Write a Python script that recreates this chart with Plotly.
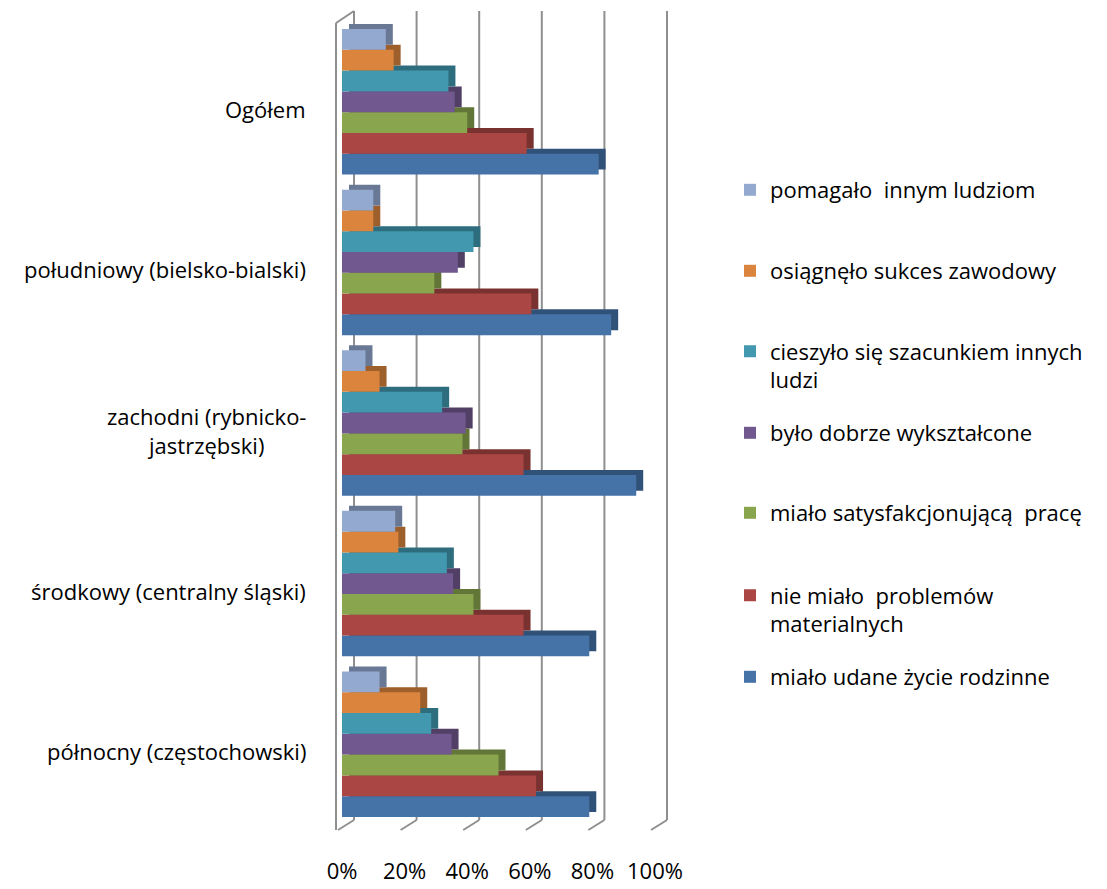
import plotly.graph_objects as go

W, H = 1107, 889
PAGE_OFF = 8  # default body margin of the html page

# ---------------- data ----------------
categories = ["Ogółem", "południowy (bielsko-bialski)", "zachodni (rybnicko-jastrzębski)",
              "środkowy (centralny śląski)", "północny (częstochowski)"]
category_labels = ["Ogółem", "południowy (bielsko-bialski)", "zachodni (rybnicko-<br>jastrzębski)",
                   "środkowy (centralny śląski)", "północny (częstochowski)"]

series_names = ["pomagało innym ludziom", "osiągnęło sukces zawodowy",
                "cieszyło się szacunkiem innych ludzi", "było dobrze wykształcone",
                "miało satysfakcjonującą  pracę", "nie miało problemów materialnych",
                "miało udane życie rodzinne"]
legend_labels = ["pomagało  innym ludziom", "osiągnęło sukces zawodowy",
                 "cieszyło się szacunkiem innych<br>ludzi", "było dobrze wykształcone",
                 "miało satysfakcjonującą  pracę", "nie miało  problemów<br>materialnych",
                 "miało udane życie rodzinne"]

pomagalo = [14, 10, 7.5, 17, 12]
osiagnelo = [16.5, 10, 12, 18, 25]
cieszylo = [34, 42, 32, 33.5, 28.5]
bylo = [36, 37, 39.5, 35.5, 35]
satysfakcja = [40, 29.5, 38.5, 42, 50]
bez_problemow = [59, 60.5, 58, 58, 62]
zycie_rodzinne = [82, 86, 94, 79, 79]
series_values = [pomagalo, osiagnelo, cieszylo, bylo, satysfakcja, bez_problemow, zycie_rodzinne]

tick_values = [0, 20, 40, 60, 80, 100]
tick_labels = ["0%", "20%", "40%", "60%", "80%", "100%"]

# ---------------- style ----------------
colors = ["#93A9CF", "#DB843D", "#4198AF", "#71588F", "#89A54E", "#AA4643", "#4572A7"]
legend_y_px = [190, 271, 366, 433, 513, 610, 677]
FONT = "Open Sans"
FS = 22


def shade(hexcol, f):
    h = hexcol.lstrip("#")
    r, g, b = (int(h[i:i + 2], 16) for i in (0, 2, 4))
    return "#%02x%02x%02x" % (int(r * f), int(g * f), int(b * f))


def px_x(p):
    return (p - PAGE_OFF) / W


def px_y(p):
    return 1 - (p - PAGE_OFF) / H


# bar plane geometry (screen pixels)
X0, SCALE = 342, 3.13      # pixel of 0% and pixels per percent on the bar plane
R0, R1 = -8, 108           # axis range (slack so frame lines are not clipped)
Y_TOP, Y_BOT = 21.5, 824.5  # category band
DX, DY = 7, 5              # bar depth offset
D0, D1 = X0 + R0 * SCALE, X0 + R1 * SCALE

fig = go.Figure()

order = list(range(len(series_names)))[::-1]

# depth (shadow) bars: own subplot shifted up/right
for i in order:
    fig.add_trace(go.Bar(
        y=categories, x=series_values[i], orientation="h",
        marker=dict(color=shade(colors[i], 0.72), line=dict(width=0)),
        xaxis="x", yaxis="y", showlegend=False, hoverinfo="skip",
    ))

# front bars
for i in order:
    lg = "legend" if i == 0 else "legend%d" % (i + 1)
    fig.add_trace(go.Bar(
        y=categories, x=series_values[i], orientation="h", name=legend_labels[i],
        marker=dict(color=colors[i], line=dict(width=0)),
        xaxis="x2", yaxis="y2", legend=lg, showlegend=True,
    ))

cat_array = categories[::-1]

layout = dict(
    width=W, height=H,
    margin=dict(l=0, r=0, t=0, b=0, autoexpand=False),
    paper_bgcolor="white", plot_bgcolor="rgba(0,0,0,0)",
    font=dict(family=FONT, size=FS, color="#000000"),
    barmode="group", bargap=0.094, bargroupgap=0,
    xaxis=dict(domain=[px_x(D0 + DX), px_x(D1 + DX)], range=[R0, R1], visible=False,
               anchor="y"),
    yaxis=dict(domain=[px_y(Y_BOT - DY), px_y(Y_TOP - DY)], type="category",
               categoryorder="array", categoryarray=cat_array, visible=False, anchor="x"),
    xaxis2=dict(domain=[px_x(D0), px_x(D1)], range=[R0, R1], anchor="y2",
                tickvals=tick_values, ticktext=tick_labels, showgrid=False, zeroline=False,
                showline=False, ticks="", ticklabelstandoff=31,
                tickfont=dict(family=FONT, size=FS, color="#000000")),
    yaxis2=dict(domain=[px_y(Y_BOT), px_y(Y_TOP)], type="category",
                anchor="x2", categoryorder="array", categoryarray=cat_array,
                showticklabels=False, showgrid=False, zeroline=False, showline=False,
                ticks=""),
    showlegend=True,
)

for i in range(len(series_names)):
    key = "legend" if i == 0 else "legend%d" % (i + 1)
    layout[key] = dict(
        x=px_x(730), xanchor="left", y=px_y(legend_y_px[i]), yanchor="middle",
        bgcolor="rgba(0,0,0,0)", borderwidth=0, valign="top",
        font=dict(family=FONT, size=FS, color="#000000"),
    )

fig.update_layout(**layout)

# ---------------- 3D frame (grid on back wall) ----------------
GRID = "#8f8f8f"
BACK_DX = 12
FRONT_DX = -5
back_top, back_bot = 11, 820
front_top, front_bot = 23, 830

shapes = []
for v in tick_values:
    shapes.append(dict(type="line", xref="x2", xsizemode="pixel", xanchor=v,
                       x0=BACK_DX, x1=BACK_DX, yref="paper",
                       y0=px_y(back_bot), y1=px_y(back_top),
                       line=dict(color=GRID, width=2), layer="below"))
    shapes.append(dict(type="line", xref="x2", xsizemode="pixel", xanchor=v,
                       x0=FRONT_DX + 1, x1=BACK_DX, yref="paper",
                       y0=px_y(front_bot), y1=px_y(back_bot),
                       line=dict(color=GRID, width=2), layer="below"))
shapes.append(dict(type="line", xref="x2", xsizemode="pixel", xanchor=tick_values[0],
                   x0=FRONT_DX - 1, x1=FRONT_DX - 1, yref="paper",
                   y0=px_y(front_bot), y1=px_y(front_top),
                   line=dict(color=GRID, width=2), layer="below"))
shapes.append(dict(type="line", xref="x2", xsizemode="pixel", xanchor=tick_values[0],
                   x0=FRONT_DX - 1, x1=BACK_DX, yref="paper",
                   y0=px_y(front_top), y1=px_y(back_top),
                   line=dict(color=GRID, width=2), layer="below"))
fig.update_layout(shapes=shapes)

# ---------------- category labels ----------------
for cat, lab in zip(categories, category_labels):
    fig.add_annotation(text=lab, xref="paper", x=px_x(308), xanchor="right",
                       yref="y2", y=cat, yanchor="middle", yshift=-7,
                       showarrow=False, align="center",
                       font=dict(family=FONT, size=FS, color="#000000"))

fig.write_html("out.html")
